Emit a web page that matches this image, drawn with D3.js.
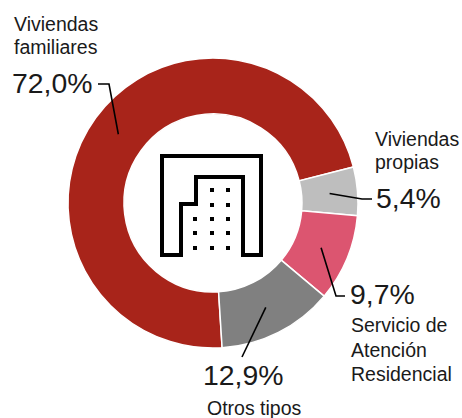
<!DOCTYPE html>
<html>
<head>
<meta charset="utf-8">
<script src="https://cdn.jsdelivr.net/npm/d3@7"></script>
<style>
body { margin: 0; background: #fff; }
text { font-family: "Liberation Sans", sans-serif; fill: #1a1a1a; }
.pct { font-size: 28.4px; }
.lab { font-size: 19.5px; }
</style>
</head>
<body>
<svg width="462" height="418"></svg>
<script>
var categories = ["Viviendas familiares", "Viviendas propias", "Servicio de Atención Residencial", "Otros tipos"];
var values = [72.0, 5.4, 9.7, 12.9];
var colors = ["#a8241a", "#bebebe", "#dc5570", "#808080"];

var svg = d3.select("svg");
var cx = 213, cy = 203;
var outer = 145, inner = 89;
var start = 176.4 * Math.PI / 180;

var g = svg.append("g").attr("transform", "translate(" + cx + "," + cy + ")");

var pie = d3.pie().sort(null).value(function(d) {return d}).startAngle(start).endAngle(start + 2 * Math.PI);
var arc = d3.arc().innerRadius(inner).outerRadius(outer);
var arcs = pie(values);

g.selectAll("path.slice")
    .data(arcs)
    .enter().append("path")
    .attr("class", "slice")
    .attr("d", arc)
    .attr("fill", function(d, i) {return colors[i]})
    .attr("stroke", "#fff")
    .attr("stroke-width", 1.5);

// leader lines start at the slice centroid, the rest is a hand placed elbow
var elbows = [
    [[-104, -119], [-115, -119]],
    [[149, -4], [159, -4]],
    [[123, 93], [132, 93]],
    [[29, 154]]
];
arcs.forEach(function(d, i) {
    var pts = [arc.centroid(d)].concat(elbows[i]);
    g.append("path")
        .attr("d", d3.line()(pts))
        .attr("fill", "none")
        .attr("stroke", "#000")
        .attr("stroke-width", 1.6);
});

// labels
var labels = [
    {x: 14, lines: [["Viviendas", 31], ["familiares", 54]], pct: "72,0%", px: 12, py: 93},
    {x: 375, lines: [["Viviendas", 146], ["propias", 169]], pct: "5,4%", px: 376, py: 208},
    {x: 351, lines: [["Servicio de", 332], ["Atención", 357], ["Residencial", 381]], pct: "9,7%", px: 350, py: 304},
    {x: 207, lines: [["Otros tipos", 415]], pct: "12,9%", px: 203, py: 385}
];
labels.forEach(function(l) {
    svg.append("text").attr("class", "pct").attr("x", l.px).attr("y", l.py).text(l.pct);
    l.lines.forEach(function(t) {
        svg.append("text").attr("class", "lab").attr("x", l.x).attr("y", t[1]).text(t[0]);
    });
});

// building icon
var icon = svg.append("g");
icon.append("path")
    .attr("d", "M162,255V156H261V255H243V177H196V204H181V255Z")
    .attr("fill", "none")
    .attr("stroke", "#000")
    .attr("stroke-width", 4);

var dotCols = [195, 212, 228];
var dotRows = [190, 205, 219, 233, 248];
dotCols.forEach(function(x, c) {
    dotRows.forEach(function(y, r) {
        if (c == 0 && r < 2) return;
        icon.append("rect")
            .attr("x", x - 2).attr("y", y - 2)
            .attr("width", 4).attr("height", 4)
            .attr("fill", "#000");
    });
});
</script>
</body>
</html>
